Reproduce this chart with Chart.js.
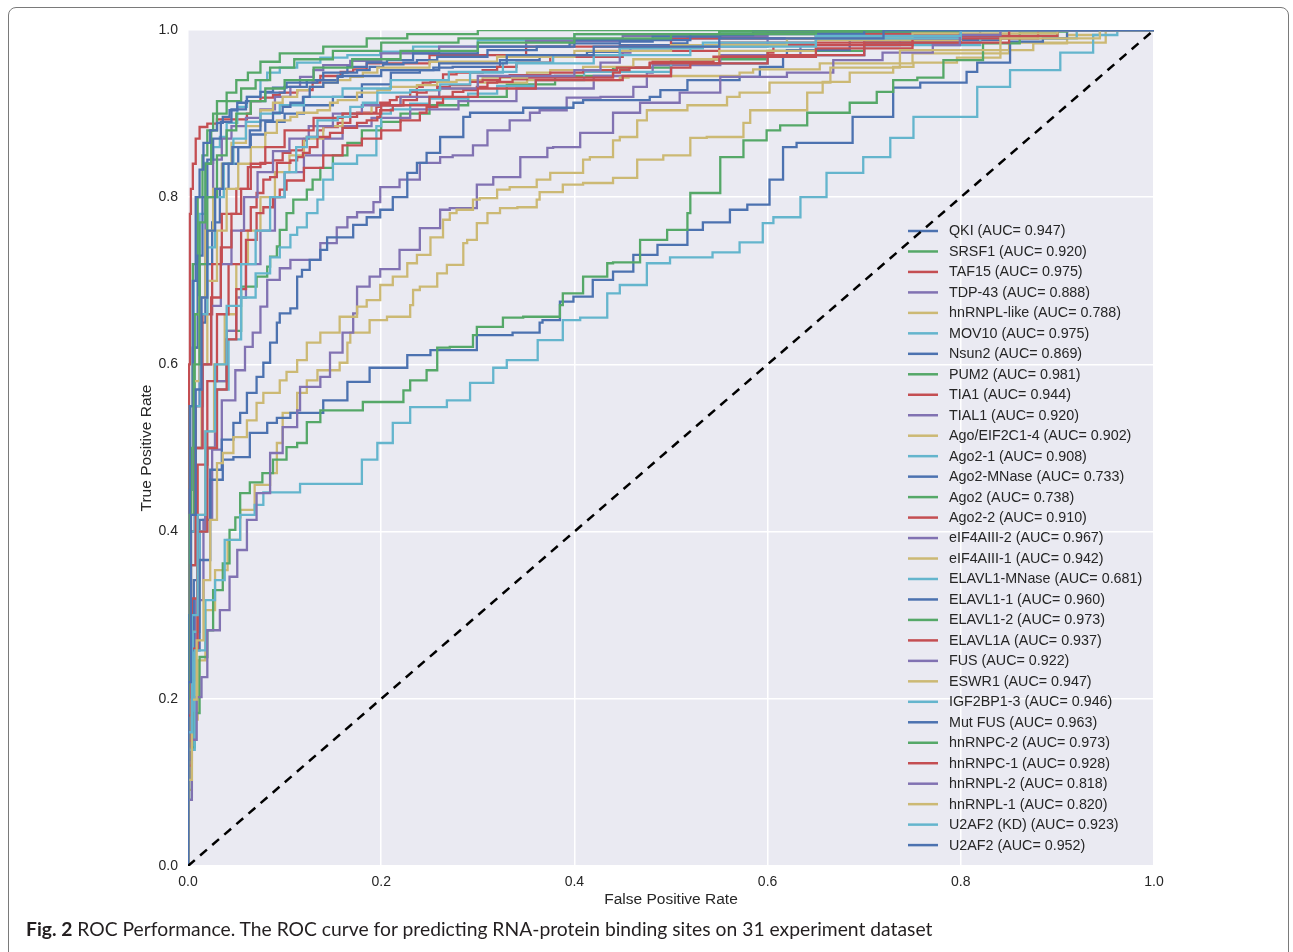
<!DOCTYPE html>
<html>
<head>
<meta charset="utf-8">
<script src="https://cdn.jsdelivr.net/npm/chart.js@4.4.1/dist/chart.umd.min.js"></script>
<style>
  html, body { margin: 0; padding: 0; background: #fff; }
  body { width: 1293px; height: 952px; position: relative; overflow: hidden; }
  #frame { position: absolute; left: 8px; top: 7px; width: 1281px; height: 1000px;
           border: 1.5px solid #7a7a7a; border-radius: 8px; box-sizing: border-box; }
  #roc { position: absolute; left: 0; top: 0; }
  .axis-title { position: absolute; font: 15.5px "Liberation Sans", Arial, sans-serif; color: #262626;
                width: 240px; height: 18px; line-height: 18px; text-align: center; white-space: nowrap; }
  #xtitle { left: 551px; top: 890px; }
  #ytitle { left: 26px; top: 439px; transform: rotate(-90deg); }
  #caption { position: absolute; left: 26px; top: 917px; font: 19.3px Lato, "Noto Sans", sans-serif;
             color: #231f20; white-space: nowrap; }
  #caption b { font-weight: 700; }
</style>
</head>
<body>
<div id="frame"></div>
<canvas id="roc" width="1293" height="952"></canvas>
<div class="axis-title" id="xtitle">False Positive Rate</div>
<div class="axis-title" id="ytitle">True Positive Rate</div>
<div id="caption"><b>Fig. 2</b> ROC Performance. The ROC curve for predicting RNA-protein binding sites on 31 experiment dataset</div>
<script>
// tick labels
const tickValues = [0, 0.2, 0.4, 0.6, 0.8, 1.0];

// legend names and AUC values, in plot order
const seriesNames = ['QKI', 'SRSF1', 'TAF15', 'TDP-43', 'hnRNPL-like', 'MOV10', 'Nsun2', 'PUM2',
  'TIA1', 'TIAL1', 'Ago/EIF2C1-4', 'Ago2-1', 'Ago2-MNase', 'Ago2', 'Ago2-2', 'eIF4AIII-2',
  'eIF4AIII-1', 'ELAVL1-MNase', 'ELAVL1-1', 'ELAVL1-2', 'ELAVL1A', 'FUS', 'ESWR1', 'IGF2BP1-3',
  'Mut FUS', 'hnRNPC-2', 'hnRNPC-1', 'hnRNPL-2', 'hnRNPL-1', 'U2AF2 (KD)', 'U2AF2'];
const aucValues = ['0.947', '0.920', '0.975', '0.888', '0.788', '0.975', '0.869', '0.981',
  '0.944', '0.920', '0.902', '0.908', '0.733', '0.738', '0.910', '0.967',
  '0.942', '0.681', '0.960', '0.973', '0.937', '0.922', '0.947', '0.946',
  '0.963', '0.973', '0.928', '0.818', '0.820', '0.923', '0.952'];

// ROC points [FPR, TPR]
const rocQKI = [[0,0],[0.003,0.2],[0.007,0.4],[0.012,0.55],[0.018,0.65],[0.025,0.72],[0.033,0.77],[0.042,0.81],[0.052,0.84],[0.065,0.86],[0.08,0.875],[0.1,0.89],[0.12,0.9],[0.15,0.91],[0.18,0.92],[0.21,0.935],[0.24,0.949],[0.254,0.952],[0.274,0.955],[0.323,0.956],[0.364,0.964],[0.378,0.968],[0.413,0.97],[0.447,0.974],[0.502,0.982],[0.517,0.984],[0.65,0.99],[0.8,0.995],[1,1]];
const rocSRSF1 = [[0,0],[0.004,0.14],[0.01,0.28],[0.018,0.4],[0.028,0.5],[0.04,0.58],[0.055,0.64],[0.071,0.693],[0.082,0.705],[0.085,0.717],[0.092,0.729],[0.095,0.741],[0.102,0.761],[0.109,0.781],[0.123,0.797],[0.129,0.809],[0.137,0.821],[0.15,0.835],[0.165,0.85],[0.18,0.865],[0.2,0.88],[0.22,0.89],[0.25,0.9],[0.29,0.91],[0.33,0.92],[0.38,0.935],[0.44,0.945],[0.5,0.955],[0.6,0.965],[0.7,0.975],[0.8,0.985],[0.9,0.993],[1,1]];
const rocTAF15 = [[0,0],[0.001,0.3],[0.002,0.6],[0.003,0.78],[0.005,0.81],[0.008,0.84],[0.012,0.87],[0.02,0.884],[0.03,0.888],[0.061,0.893],[0.065,0.9],[0.075,0.915],[0.088,0.919],[0.095,0.922],[0.113,0.925],[0.129,0.928],[0.137,0.937],[0.158,0.945],[0.171,0.95],[0.185,0.953],[0.25,0.96],[0.35,0.97],[0.5,0.98],[0.65,0.99],[0.8,0.995],[1,1]];
const rocTDP43 = [[0,0],[0.003,0.103],[0.008,0.222],[0.016,0.318],[0.025,0.414],[0.035,0.498],[0.049,0.557],[0.059,0.593],[0.067,0.621],[0.075,0.638],[0.082,0.669],[0.095,0.701],[0.106,0.715],[0.137,0.725],[0.154,0.745],[0.165,0.764],[0.175,0.776],[0.192,0.782],[0.199,0.794],[0.219,0.812],[0.24,0.821],[0.261,0.841],[0.274,0.848],[0.295,0.85],[0.31,0.862],[0.333,0.88],[0.354,0.892],[0.364,0.901],[0.392,0.904],[0.427,0.919],[0.461,0.92],[0.475,0.932],[0.481,0.949],[0.551,0.958],[0.634,0.97],[0.737,0.982],[0.841,0.99],[1,1]];
const rocHnrnplLike = [[0,0],[0.004,0.091],[0.01,0.175],[0.018,0.246],[0.028,0.306],[0.041,0.354],[0.054,0.39],[0.069,0.426],[0.085,0.456],[0.092,0.47],[0.098,0.506],[0.113,0.542],[0.123,0.566],[0.134,0.581],[0.157,0.593],[0.165,0.602],[0.168,0.626],[0.188,0.638],[0.206,0.653],[0.23,0.657],[0.233,0.671],[0.24,0.689],[0.258,0.693],[0.268,0.709],[0.285,0.719],[0.289,0.745],[0.299,0.749],[0.31,0.769],[0.323,0.781],[0.341,0.787],[0.361,0.788],[0.364,0.797],[0.388,0.806],[0.409,0.815],[0.44,0.817],[0.465,0.823],[0.492,0.845],[0.52,0.85],[0.537,0.871],[0.575,0.872],[0.582,0.889],[0.599,0.904],[0.641,0.904],[0.657,0.925],[0.685,0.938],[0.73,0.949],[0.751,0.956],[0.796,0.961],[0.841,0.967],[0.875,0.976],[0.91,0.984],[0.944,0.994],[1,1]];
const rocMOV10 = [[0,0],[0.002,0.3],[0.006,0.55],[0.012,0.7],[0.018,0.78],[0.026,0.841],[0.033,0.86],[0.04,0.872],[0.051,0.889],[0.061,0.908],[0.075,0.92],[0.082,0.94],[0.095,0.949],[0.113,0.955],[0.137,0.961],[0.165,0.967],[0.199,0.97],[0.233,0.974],[0.3,0.98],[0.4,0.988],[0.55,0.995],[0.75,0.998],[1,1]];
const rocNsun2 = [[0,0],[0.002,0.127],[0.006,0.246],[0.012,0.342],[0.023,0.414],[0.035,0.474],[0.047,0.51],[0.054,0.53],[0.061,0.542],[0.071,0.566],[0.078,0.585],[0.085,0.602],[0.092,0.626],[0.095,0.65],[0.106,0.661],[0.113,0.667],[0.118,0.705],[0.126,0.713],[0.137,0.725],[0.144,0.737],[0.171,0.752],[0.185,0.767],[0.199,0.776],[0.212,0.785],[0.227,0.8],[0.237,0.829],[0.247,0.841],[0.261,0.853],[0.285,0.872],[0.292,0.896],[0.347,0.901],[0.399,0.907],[0.409,0.913],[0.478,0.916],[0.489,0.92],[0.517,0.928],[0.571,0.94],[0.592,0.944],[0.616,0.956],[0.62,0.968],[0.685,0.976],[0.841,0.988],[1,1]];
const rocPUM2 = [[0,0],[0.002,0.3],[0.005,0.55],[0.01,0.72],[0.015,0.8],[0.02,0.85],[0.026,0.88],[0.03,0.9],[0.04,0.915],[0.05,0.925],[0.062,0.94],[0.075,0.949],[0.095,0.962],[0.14,0.972],[0.185,0.98],[0.227,0.99],[0.3,0.995],[0.437,1],[1,1]];
const rocTIA1 = [[0,0],[0.003,0.2],[0.008,0.4],[0.015,0.55],[0.025,0.66],[0.035,0.72],[0.05,0.78],[0.062,0.81],[0.075,0.836],[0.088,0.841],[0.098,0.844],[0.106,0.853],[0.119,0.856],[0.123,0.868],[0.134,0.872],[0.14,0.88],[0.155,0.884],[0.168,0.889],[0.175,0.896],[0.195,0.901],[0.199,0.908],[0.209,0.913],[0.216,0.916],[0.23,0.92],[0.237,0.926],[0.243,0.932],[0.251,0.937],[0.264,0.938],[0.278,0.947],[0.305,0.949],[0.32,0.952],[0.34,0.956],[0.375,0.961],[0.45,0.968],[0.55,0.975],[0.7,0.985],[0.85,0.993],[1,1]];
const rocTIAL1 = [[0,0],[0.004,0.14],[0.01,0.28],[0.018,0.4],[0.028,0.5],[0.04,0.58],[0.05,0.64],[0.06,0.68],[0.075,0.72],[0.09,0.76],[0.1,0.8],[0.12,0.83],[0.14,0.85],[0.16,0.87],[0.19,0.885],[0.23,0.895],[0.28,0.905],[0.34,0.915],[0.42,0.93],[0.5,0.945],[0.6,0.96],[0.7,0.97],[0.82,0.985],[1,1]];
const rocAgoEIF2C = [[0,0],[0.004,0.14],[0.01,0.28],[0.018,0.42],[0.027,0.52],[0.038,0.6],[0.05,0.66],[0.062,0.72],[0.075,0.76],[0.09,0.8],[0.105,0.83],[0.12,0.85],[0.14,0.87],[0.16,0.885],[0.19,0.9],[0.22,0.91],[0.26,0.92],[0.3,0.93],[0.351,0.937],[0.447,0.94],[0.456,0.943],[0.571,0.945],[0.585,0.949],[0.654,0.953],[0.75,0.96],[0.85,0.972],[0.95,0.985],[1,1]];
const rocAgo2_1 = [[0,0],[0.005,0.14],[0.012,0.28],[0.02,0.4],[0.03,0.5],[0.042,0.57],[0.055,0.63],[0.07,0.68],[0.085,0.709],[0.095,0.728],[0.106,0.74],[0.113,0.755],[0.123,0.764],[0.134,0.781],[0.14,0.797],[0.15,0.821],[0.175,0.84],[0.195,0.85],[0.2,0.885],[0.21,0.9],[0.23,0.905],[0.25,0.912],[0.29,0.918],[0.32,0.924],[0.36,0.933],[0.41,0.94],[0.5,0.95],[0.6,0.96],[0.7,0.97],[0.82,0.982],[0.92,0.99],[1,1]];
const rocAgo2MNase = [[0,0],[0.004,0.127],[0.012,0.258],[0.023,0.366],[0.036,0.462],[0.047,0.486],[0.064,0.489],[0.082,0.518],[0.092,0.53],[0.106,0.536],[0.14,0.542],[0.165,0.557],[0.188,0.579],[0.227,0.596],[0.251,0.611],[0.299,0.617],[0.336,0.635],[0.364,0.638],[0.367,0.65],[0.385,0.653],[0.399,0.675],[0.419,0.681],[0.44,0.701],[0.461,0.711],[0.486,0.731],[0.517,0.743],[0.533,0.761],[0.561,0.77],[0.579,0.785],[0.602,0.791],[0.616,0.821],[0.63,0.86],[0.688,0.865],[0.73,0.896],[0.758,0.931],[0.806,0.937],[0.817,0.95],[0.851,0.961],[0.885,0.986],[0.91,0.99],[1,1]];
const rocAgo2 = [[0,0],[0.004,0.079],[0.007,0.142],[0.012,0.183],[0.02,0.25],[0.026,0.282],[0.036,0.33],[0.043,0.362],[0.049,0.402],[0.054,0.417],[0.064,0.446],[0.077,0.459],[0.088,0.47],[0.102,0.486],[0.113,0.501],[0.123,0.506],[0.137,0.531],[0.147,0.545],[0.181,0.545],[0.192,0.555],[0.223,0.555],[0.23,0.569],[0.247,0.581],[0.258,0.593],[0.271,0.62],[0.295,0.621],[0.299,0.635],[0.326,0.645],[0.347,0.656],[0.385,0.657],[0.388,0.671],[0.409,0.685],[0.434,0.705],[0.44,0.721],[0.468,0.722],[0.496,0.749],[0.517,0.761],[0.52,0.781],[0.551,0.805],[0.575,0.848],[0.599,0.868],[0.613,0.88],[0.641,0.886],[0.685,0.901],[0.713,0.913],[0.73,0.926],[0.755,0.94],[0.782,0.943],[0.823,0.964],[0.861,0.984],[0.91,0.998],[1,1]];
const rocAgo2_2 = [[0,0],[0.004,0.12],[0.01,0.26],[0.02,0.4],[0.03,0.5],[0.04,0.57],[0.05,0.63],[0.06,0.69],[0.071,0.749],[0.078,0.781],[0.088,0.788],[0.095,0.8],[0.102,0.809],[0.12,0.82],[0.14,0.835],[0.16,0.85],[0.18,0.862],[0.2,0.87],[0.22,0.88],[0.24,0.892],[0.247,0.901],[0.258,0.908],[0.264,0.913],[0.274,0.92],[0.285,0.926],[0.299,0.928],[0.31,0.932],[0.32,0.937],[0.336,0.938],[0.351,0.941],[0.44,0.943],[0.447,0.949],[0.457,0.952],[0.478,0.955],[0.481,0.961],[0.544,0.962],[0.6,0.968],[0.606,0.973],[0.75,0.982],[0.9,0.993],[1,1]];
const rocEIF4A3_2 = [[0,0],[0.002,0.22],[0.006,0.45],[0.012,0.62],[0.018,0.72],[0.026,0.8],[0.035,0.845],[0.045,0.87],[0.06,0.885],[0.075,0.895],[0.09,0.905],[0.106,0.92],[0.116,0.932],[0.13,0.944],[0.14,0.952],[0.168,0.958],[0.2,0.963],[0.26,0.972],[0.35,0.98],[0.45,0.987],[0.6,0.993],[0.8,0.998],[1,1]];
const rocEIF4A3_1 = [[0,0],[0.003,0.18],[0.008,0.36],[0.014,0.5],[0.02,0.6],[0.03,0.7],[0.04,0.76],[0.052,0.81],[0.065,0.84],[0.08,0.86],[0.092,0.877],[0.106,0.892],[0.113,0.896],[0.134,0.901],[0.147,0.904],[0.155,0.913],[0.175,0.916],[0.196,0.925],[0.209,0.928],[0.237,0.932],[0.258,0.934],[0.278,0.938],[0.305,0.94],[0.351,0.943],[0.375,0.949],[0.409,0.952],[0.461,0.956],[0.55,0.965],[0.65,0.975],[0.8,0.988],[1,1]];
const rocELAVL1MNase = [[0,0],[0.007,0.139],[0.018,0.258],[0.028,0.318],[0.038,0.342],[0.054,0.39],[0.069,0.42],[0.078,0.432],[0.116,0.447],[0.18,0.457],[0.196,0.486],[0.212,0.506],[0.23,0.53],[0.268,0.549],[0.292,0.557],[0.316,0.578],[0.33,0.596],[0.362,0.605],[0.388,0.629],[0.406,0.653],[0.434,0.656],[0.447,0.685],[0.475,0.695],[0.499,0.721],[0.543,0.728],[0.571,0.734],[0.595,0.746],[0.606,0.769],[0.634,0.776],[0.661,0.8],[0.699,0.829],[0.727,0.848],[0.751,0.871],[0.817,0.896],[0.851,0.932],[0.903,0.952],[0.937,0.973],[0.962,0.994],[1,1]];
const rocELAVL1_1 = [[0,0],[0.002,0.25],[0.005,0.45],[0.01,0.62],[0.015,0.73],[0.02,0.8],[0.026,0.845],[0.034,0.87],[0.045,0.89],[0.06,0.905],[0.08,0.915],[0.1,0.925],[0.123,0.932],[0.134,0.937],[0.155,0.94],[0.16,0.944],[0.175,0.949],[0.188,0.952],[0.202,0.956],[0.223,0.959],[0.237,0.961],[0.258,0.964],[0.31,0.968],[0.361,0.976],[0.395,0.98],[0.447,0.984],[0.481,0.986],[0.551,0.992],[0.585,0.994],[0.8,0.998],[1,1]];
const rocELAVL1_2 = [[0,0],[0.003,0.25],[0.007,0.5],[0.012,0.66],[0.018,0.77],[0.024,0.84],[0.03,0.88],[0.04,0.9],[0.055,0.915],[0.07,0.93],[0.085,0.94],[0.11,0.955],[0.15,0.965],[0.2,0.975],[0.28,0.985],[0.4,0.99],[0.55,0.995],[0.8,0.998],[1,1]];
const rocELAVL1A = [[0,0],[0.004,0.15],[0.01,0.32],[0.02,0.48],[0.03,0.58],[0.042,0.66],[0.055,0.72],[0.065,0.76],[0.071,0.788],[0.078,0.805],[0.085,0.821],[0.092,0.824],[0.106,0.841],[0.113,0.844],[0.119,0.848],[0.126,0.853],[0.134,0.86],[0.147,0.872],[0.16,0.877],[0.175,0.883],[0.185,0.889],[0.196,0.892],[0.199,0.896],[0.212,0.904],[0.223,0.91],[0.237,0.916],[0.247,0.925],[0.258,0.928],[0.271,0.932],[0.292,0.934],[0.305,0.938],[0.323,0.94],[0.333,0.944],[0.375,0.946],[0.409,0.949],[0.444,0.952],[0.478,0.955],[0.55,0.96],[0.65,0.968],[0.75,0.978],[0.88,0.99],[1,1]];
const rocFUS = [[0,0],[0.003,0.18],[0.008,0.36],[0.015,0.5],[0.024,0.6],[0.034,0.67],[0.045,0.72],[0.058,0.76],[0.072,0.8],[0.088,0.83],[0.105,0.855],[0.125,0.87],[0.15,0.885],[0.18,0.9],[0.22,0.91],[0.26,0.92],[0.3,0.93],[0.4,0.945],[0.427,0.952],[0.447,0.961],[0.458,0.973],[0.6,0.98],[0.8,0.99],[1,1]];
const rocESWR1 = [[0,0],[0.002,0.22],[0.006,0.42],[0.012,0.58],[0.018,0.68],[0.026,0.76],[0.035,0.81],[0.045,0.84],[0.06,0.865],[0.075,0.885],[0.088,0.904],[0.098,0.913],[0.113,0.92],[0.126,0.928],[0.14,0.932],[0.155,0.937],[0.168,0.94],[0.181,0.944],[0.196,0.949],[0.25,0.955],[0.32,0.962],[0.4,0.968],[0.5,0.975],[0.62,0.982],[0.75,0.99],[0.9,0.996],[1,1]];
const rocIGF2BP1 = [[0,0],[0.003,0.2],[0.007,0.4],[0.013,0.55],[0.02,0.66],[0.028,0.74],[0.037,0.8],[0.047,0.84],[0.06,0.87],[0.075,0.89],[0.095,0.9],[0.12,0.91],[0.16,0.92],[0.21,0.93],[0.27,0.94],[0.34,0.95],[0.42,0.96],[0.52,0.97],[0.65,0.98],[0.8,0.99],[1,1]];
const rocMutFUS = [[0,0],[0.002,0.3],[0.005,0.55],[0.008,0.7],[0.012,0.8],[0.016,0.833],[0.023,0.865],[0.03,0.88],[0.036,0.889],[0.043,0.896],[0.051,0.904],[0.061,0.913],[0.075,0.92],[0.088,0.926],[0.102,0.931],[0.123,0.937],[0.14,0.94],[0.165,0.949],[0.185,0.956],[0.206,0.961],[0.233,0.964],[0.3,0.972],[0.4,0.98],[0.52,0.988],[0.7,0.995],[1,1]];
const rocHnrnpc2 = [[0,0],[0.002,0.2],[0.006,0.42],[0.012,0.6],[0.02,0.72],[0.03,0.8],[0.04,0.85],[0.05,0.88],[0.065,0.9],[0.08,0.915],[0.1,0.93],[0.13,0.94],[0.17,0.955],[0.22,0.965],[0.3,0.975],[0.4,0.985],[0.5,0.99],[0.65,0.995],[1,1]];
const rocHnrnpc1 = [[0,0],[0.003,0.18],[0.008,0.36],[0.015,0.5],[0.024,0.6],[0.034,0.68],[0.045,0.74],[0.055,0.78],[0.065,0.81],[0.08,0.84],[0.1,0.86],[0.13,0.88],[0.16,0.895],[0.2,0.9],[0.25,0.91],[0.3,0.92],[0.36,0.93],[0.45,0.94],[0.5,0.945],[0.52,0.955],[0.6,0.96],[0.7,0.97],[0.85,0.985],[1,1]];
const rocHnrnpl2 = [[0,0],[0.004,0.079],[0.009,0.151],[0.014,0.202],[0.02,0.226],[0.033,0.282],[0.043,0.306],[0.051,0.346],[0.061,0.378],[0.071,0.414],[0.085,0.446],[0.098,0.494],[0.113,0.525],[0.116,0.545],[0.137,0.573],[0.147,0.585],[0.16,0.614],[0.171,0.638],[0.175,0.661],[0.188,0.693],[0.199,0.705],[0.219,0.714],[0.24,0.737],[0.261,0.763],[0.271,0.785],[0.299,0.787],[0.316,0.815],[0.344,0.824],[0.372,0.848],[0.378,0.859],[0.406,0.86],[0.44,0.877],[0.468,0.901],[0.509,0.913],[0.551,0.925],[0.62,0.944],[0.668,0.949],[0.719,0.964],[0.771,0.973],[0.799,0.982],[0.841,0.994],[1,1]];
const rocHnrnpl1 = [[0,0],[0.004,0.103],[0.009,0.199],[0.016,0.27],[0.023,0.342],[0.03,0.414],[0.036,0.482],[0.047,0.494],[0.061,0.513],[0.071,0.533],[0.078,0.554],[0.095,0.566],[0.102,0.581],[0.113,0.591],[0.123,0.605],[0.137,0.626],[0.157,0.638],[0.175,0.657],[0.185,0.669],[0.199,0.677],[0.212,0.695],[0.227,0.705],[0.237,0.721],[0.251,0.731],[0.264,0.752],[0.271,0.773],[0.278,0.781],[0.295,0.785],[0.302,0.797],[0.32,0.799],[0.333,0.809],[0.361,0.812],[0.375,0.821],[0.409,0.829],[0.416,0.845],[0.44,0.848],[0.447,0.868],[0.465,0.872],[0.475,0.892],[0.517,0.904],[0.558,0.91],[0.571,0.92],[0.602,0.925],[0.665,0.937],[0.737,0.955],[0.841,0.976],[0.944,0.99],[1,1]];
const rocU2AF2KD = [[0,0],[0.004,0.16],[0.01,0.3],[0.018,0.42],[0.028,0.52],[0.04,0.6],[0.055,0.67],[0.07,0.72],[0.085,0.76],[0.1,0.8],[0.112,0.83],[0.123,0.86],[0.134,0.872],[0.155,0.892],[0.168,0.896],[0.181,0.908],[0.196,0.913],[0.23,0.925],[0.261,0.928],[0.292,0.935],[0.326,0.949],[0.378,0.961],[0.447,0.97],[0.533,0.978],[0.65,0.985],[0.8,0.993],[1,1]];
const rocU2AF2 = [[0,0],[0.003,0.22],[0.008,0.42],[0.014,0.57],[0.02,0.68],[0.028,0.76],[0.036,0.81],[0.046,0.84],[0.064,0.86],[0.075,0.88],[0.088,0.892],[0.098,0.901],[0.106,0.908],[0.119,0.913],[0.126,0.92],[0.14,0.932],[0.155,0.937],[0.2,0.945],[0.26,0.952],[0.33,0.96],[0.42,0.97],[0.55,0.98],[0.72,0.99],[1,1]];

const rocSeries = [rocQKI, rocSRSF1, rocTAF15, rocTDP43, rocHnrnplLike, rocMOV10, rocNsun2, rocPUM2,
  rocTIA1, rocTIAL1, rocAgoEIF2C, rocAgo2_1, rocAgo2MNase, rocAgo2, rocAgo2_2, rocEIF4A3_2,
  rocEIF4A3_1, rocELAVL1MNase, rocELAVL1_1, rocELAVL1_2, rocELAVL1A, rocFUS, rocESWR1, rocIGF2BP1,
  rocMutFUS, rocHnrnpc2, rocHnrnpc1, rocHnrnpl2, rocHnrnpl1, rocU2AF2KD, rocU2AF2];
const chanceLine = [[0, 0], [1, 1]];

// seaborn "deep" colour cycle
const palette = ['#4C72B0', '#55A868', '#C44E52', '#8172B2', '#CCB974', '#64B5CD'];
const fontFamily = '"Liberation Sans", Arial, sans-serif';
const textColor = '#262626';

const datasets = rocSeries.map((pts, i) => ({
  label: seriesNames[i] + ' (AUC= ' + aucValues[i] + ')',
  data: pts.map(p => ({x: p[0], y: p[1]})),
  borderColor: palette[i % palette.length],
  borderWidth: 2.3,
  pointRadius: 0,
  fill: false,
  stepped: 'after',
  order: rocSeries.length - i, // later series drawn on top, like matplotlib
}));
datasets.push({
  label: 'chance',
  data: chanceLine.map(p => ({x: p[0], y: p[1]})),
  borderColor: '#000',
  borderWidth: 2.5,
  borderDash: [9, 7],
  pointRadius: 0,
  fill: false,
  order: -1,
});

const plotBackground = {
  id: 'plotBackground',
  beforeDraw(chart) {
    const {ctx, chartArea: a} = chart;
    ctx.save();
    ctx.fillStyle = '#EAEAF2';
    ctx.fillRect(a.left, a.top, a.right - a.left, a.bottom - a.top);
    ctx.restore();
  }
};

// legend placed inside the axes, lower right, without a box
const insideLegend = {
  id: 'insideLegend',
  beforeDatasetsDraw(chart) {
    const {ctx, chartArea: a} = chart;
    ctx.save();
    ctx.font = '14.3px ' + fontFamily;
    ctx.textBaseline = 'middle';
    ctx.fillStyle = textColor;
    ctx.lineWidth = 2.5;
    chart.data.datasets.forEach((ds, i) => {
      if (ds.label === 'chance') return;
      const y = a.top + 201 + i * 20.47;
      ctx.strokeStyle = ds.borderColor;
      ctx.beginPath();
      ctx.moveTo(a.left + 720, y);
      ctx.lineTo(a.left + 750, y);
      ctx.stroke();
      ctx.fillText(ds.label, a.left + 761, y + 0.5);
    });
    ctx.restore();
  }
};

const setTicks = scale => { scale.ticks = tickValues.map(v => ({value: v})); };

new Chart(document.getElementById('roc'), {
  type: 'line',
  data: {datasets},
  options: {
    responsive: false,
    animation: false,
    devicePixelRatio: 1,
    layout: {padding: {left: 0, top: 30, right: 139, bottom: 0}},
    plugins: {legend: {display: false}, tooltip: {enabled: false}},
    scales: {
      x: {
        type: 'linear', min: 0, max: 1,
        afterBuildTicks: setTicks,
        afterFit: s => { s.height = 86; },
        grid: {color: '#ffffff', lineWidth: 1.5, drawTicks: false},
        border: {display: false},
        ticks: {padding: 8, color: textColor, font: {family: fontFamily, size: 14},
                callback: v => v.toFixed(1), maxRotation: 0}
      },
      y: {
        type: 'linear', min: 0, max: 1,
        afterBuildTicks: setTicks,
        afterFit: s => { s.width = 188; },
        grid: {color: '#ffffff', lineWidth: 1.5, drawTicks: false},
        border: {display: false},
        ticks: {padding: 10, color: textColor, font: {family: fontFamily, size: 14},
                callback: v => v.toFixed(1)}
      }
    }
  },
  plugins: [plotBackground, insideLegend]
});
</script>
</body>
</html>
